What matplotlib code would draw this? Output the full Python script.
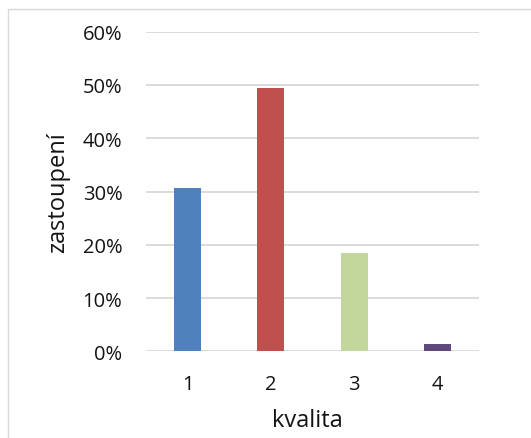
import matplotlib
matplotlib.use("Agg")
import matplotlib.pyplot as plt
from matplotlib.patches import Rectangle
from matplotlib.ticker import FuncFormatter, MultipleLocator

# Data
categories = ["1", "2", "3", "4"]
shares = [30.65, 49.4, 18.45, 1.37]  # percent
colors = ["#4F81BD", "#C0504D", "#C3D69B", "#604A7B"]

plt.rcParams["font.family"] = ["Open Sans", "DejaVu Sans"]
text_color = "#141414"

fig = plt.figure(figsize=(5.31, 4.39), dpi=100)
ax = fig.add_axes([0.275, 0.1975, 0.627, 0.728])

x = list(range(len(categories)))
ax.bar(x, shares, width=0.325, color=colors, zorder=3)

ax.set_xlim(-0.5, len(categories) - 0.5)
ax.set_ylim(0, 60)
ax.yaxis.set_major_locator(MultipleLocator(10))
ax.yaxis.set_major_formatter(FuncFormatter(lambda v, p: f"{v:.0f}%"))
ax.set_xticks(x)
ax.set_xticklabels(categories)

ax.grid(axis="y", color="#d9d9d9", linewidth=1.3, zorder=0)
for s in ax.spines.values():
    s.set_visible(False)
ax.tick_params(axis="both", length=0, labelsize=14.5, colors=text_color)
ax.tick_params(axis="y", pad=17)
ax.tick_params(axis="x", pad=16)

ax.set_xlabel("kvalita", fontsize=17, color=text_color, va="center")
ax.set_ylabel("zastoupení", fontsize=17, color=text_color, va="center")
ax.xaxis.set_label_coords(0.485, -0.215)
ax.yaxis.set_label_coords(-0.265, 0.5)

# Chart area frame
fig.patches.append(Rectangle((8 / 531, -0.1), 1.2, (439 - 10) / 439 + 0.1,
                             transform=fig.transFigure, fill=False,
                             edgecolor="#d9d9d9", linewidth=1.0))

fig.savefig("out.png", dpi=100)
